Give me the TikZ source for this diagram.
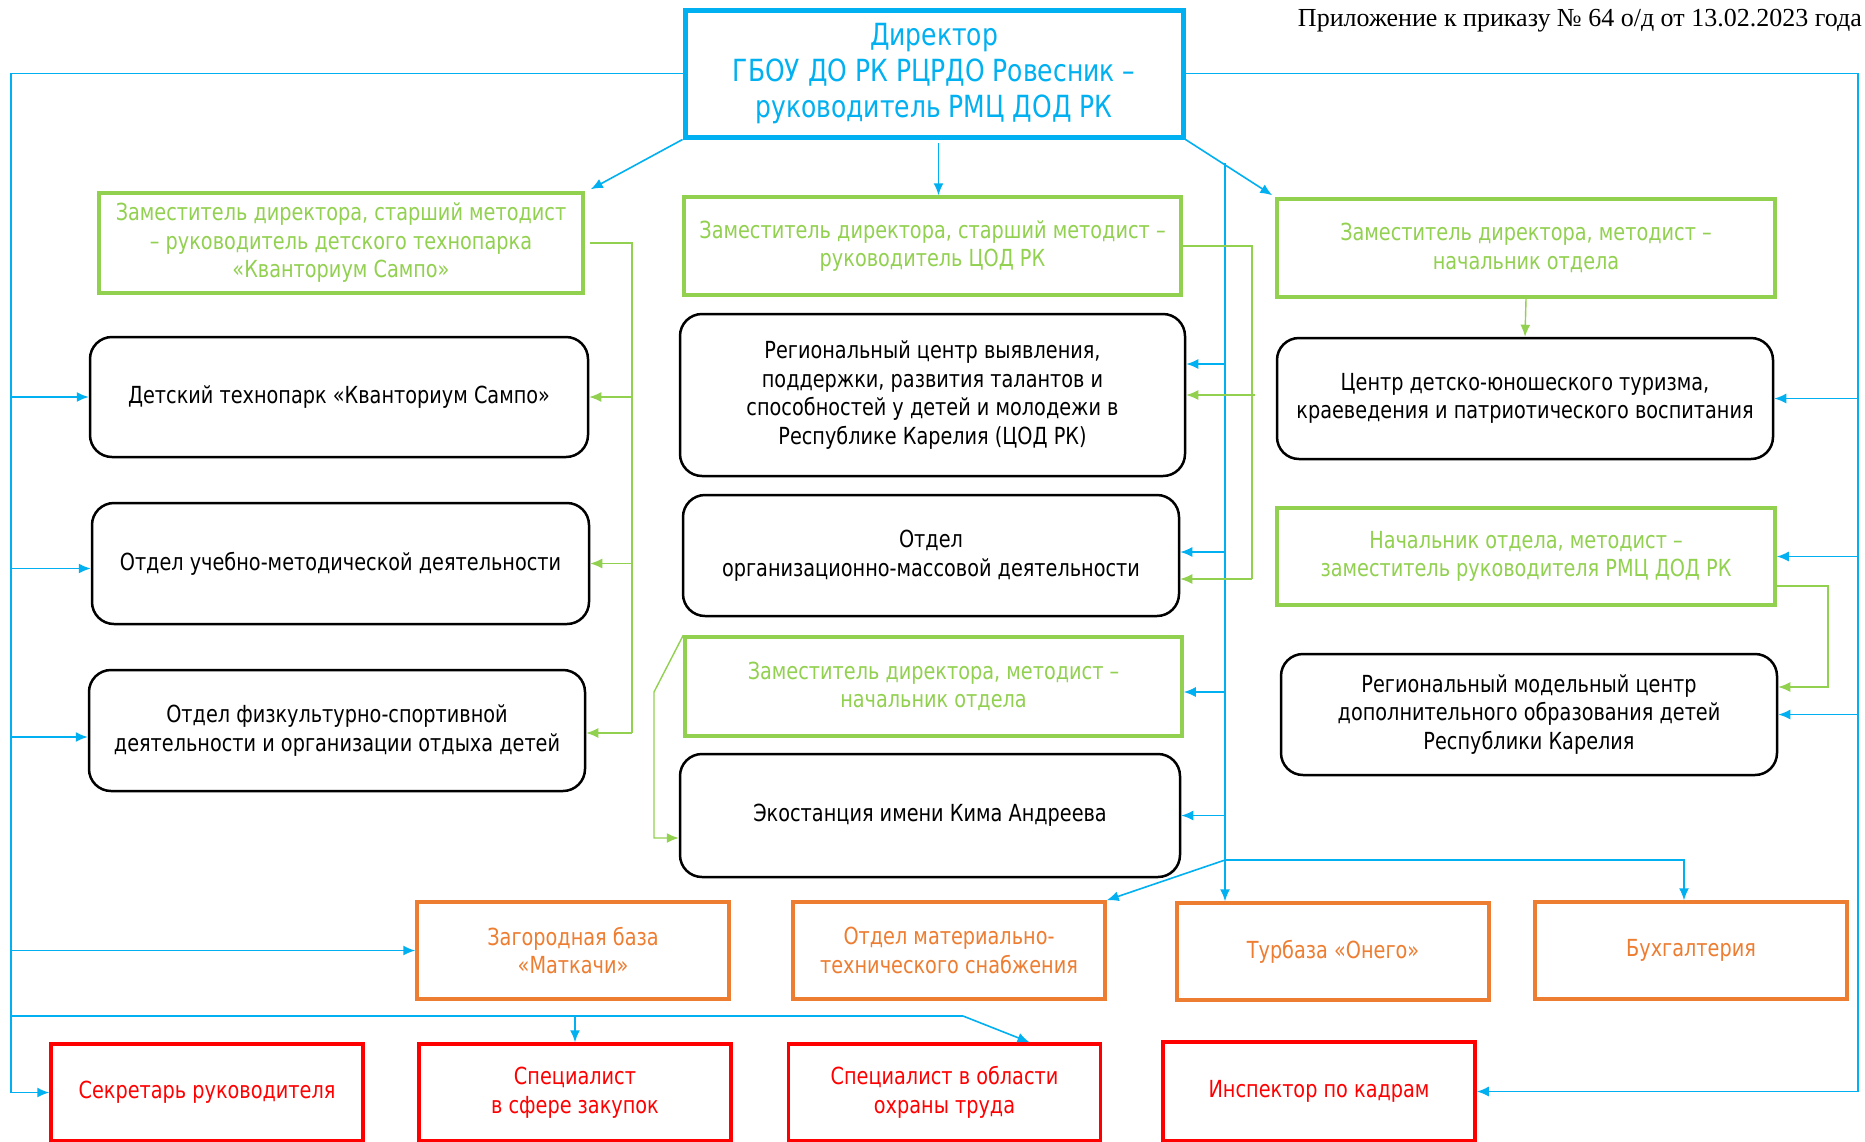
\documentclass[tikz,border=0pt]{standalone}
\usepackage{fontspec}
\setmainfont{DejaVu Sans}[FakeStretch=0.82]
\newfontfamily\annfont{Liberation Serif}
\usetikzlibrary{arrows.meta,calc}
\definecolor{cblue}{HTML}{00B0F0}
\definecolor{cgreen}{HTML}{92D050}
\definecolor{corange}{HTML}{ED7D31}
\definecolor{cred}{HTML}{FF0000}
\begin{document}
\begin{tikzpicture}[x=1pt,y=-1pt,
  txt/.style={align=center,inner sep=0pt,font=\fontsize{23.5}{28.5}\selectfont},
  dirbox/.style={txt,draw=cblue,line width=5pt,text=cblue,font=\fontsize{30.5}{36}\selectfont},
  gbox/.style={txt,draw=cgreen,line width=3.5pt,text=cgreen},
  kbox/.style={txt,draw=black,line width=2.5pt,rounded corners=22pt,text=black},
  obox/.style={txt,draw=corange,line width=3.5pt,text=corange},
  rbox/.style={txt,draw=cred,line width=3.5pt,text=cred},
  bline/.style={draw=cblue,line width=1.6pt},
  barrow/.style={bline,-{Latex[length=12pt,width=10pt]}},
  gline/.style={draw=cgreen,line width=1.4pt},
  garrow/.style={gline,-{Latex[length=12pt,width=10pt]}},
  sz/.style 2 args={minimum width=#1,minimum height=#2}
]
\useasboundingbox (0,0) rectangle (1865,1141);
\fill[white] (0,0) rectangle (1865,1141);

% annotation
\node[anchor=east,inner sep=0pt,font=\annfont\fontsize{26}{30}\selectfont] (ann) at (1862,21) {Приложение к приказу № 64 о/д от 13.02.2023 года};

% director
\node[dirbox,sz={498}{127}] (dir) at (934,73.5) {Директор\\ГБОУ ДО РК РЦРДО Ровесник –\\руководитель РМЦ ДОД РК};

% green heads
\node[gbox,sz={484}{100}] (L1) at (341,243) {Заместитель директора, старший методист\\– руководитель детского технопарка\\«Кванториум Сампо»};
\node[gbox,sz={497}{98}] (M1) at (932.5,246) {Заместитель директора, старший методист –\\руководитель ЦОД РК};
\node[gbox,sz={498}{98}] (R1) at (1526,248) {Заместитель директора, методист –\\начальник отдела};

% left column
\node[kbox,sz={498}{120}] (L2) at (339,397) {Детский технопарк «Кванториум Сампо»};
\node[kbox,sz={497}{121}] (L3) at (340.5,563.5) {Отдел учебно-методической деятельности};
\node[kbox,sz={496}{121}] (L4) at (337,730.5) {Отдел физкультурно-спортивной\\деятельности и организации отдыха детей};

% middle column
\node[kbox,sz={505}{162}] (M2) at (932.5,395) {Региональный центр выявления,\\поддержки, развития талантов и\\способностей у детей и молодежи в\\Республике Карелия (ЦОД РК)};
\node[kbox,sz={496}{121}] (M3) at (931,555.5) {Отдел\\организационно-массовой деятельности};
\node[gbox,sz={497}{99}] (M4) at (933.5,686.5) {Заместитель директора, методист –\\начальник отдела};
\node[kbox,sz={500}{123}] (M5) at (930,815.5) {Экостанция имени Кима Андреева};

% right column
\node[kbox,sz={496}{121}] (R2) at (1525,398.5) {Центр детско-юношеского туризма,\\краеведения и патриотического воспитания};
\node[gbox,sz={498}{97}] (R3) at (1526,556.5) {Начальник отдела, методист –\\заместитель руководителя РМЦ ДОД РК};
\node[kbox,sz={496}{121}] (R4) at (1529,714.5) {Региональный модельный центр\\дополнительного образования детей\\Республики Карелия};

% orange row
\node[obox,sz={312}{97}] (O1) at (573,950.5) {Загородная база\\«Маткачи»};
\node[obox,sz={312}{97}] (O2) at (949,950.5) {Отдел материально-\\технического снабжения};
\node[obox,sz={312}{97}] (O3) at (1333,951.5) {Турбаза «Онего»};
\node[obox,sz={312}{97}] (O4) at (1691,950.5) {Бухгалтерия};

% red row
\node[rbox,sz={312}{97}] (P1) at (207,1092.5) {Секретарь руководителя};
\node[rbox,sz={312}{97}] (P2) at (575,1092.5) {Специалист\\в сфере закупок};
\node[rbox,sz={312}{97}] (P3) at (944.5,1092.5) {Специалист в области\\охраны труда};
\node[rbox,sz={312}{99}] (P4) at (1319,1091.5) {Инспектор по кадрам};

% ---- blue connectors
\coordinate (LX) at (11,0);
\coordinate (RX) at (1858,0);
\draw[barrow] (dir.west) -| (LX |- P1.west) -- (P1.west);
\coordinate (l3b) at ([yshift=-5pt]L3.west);
\coordinate (l4b) at ([yshift=-6.5pt]L4.west);
\draw[barrow] (LX |- L2.west) -- (L2.west);
\draw[barrow] (LX |- l3b) -- (l3b);
\draw[barrow] (LX |- l4b) -- (l4b);
\draw[barrow] (LX |- O1.west) -- (O1.west);

\coordinate (HB1) at (11,1016);
\coordinate (HB2) at (963,1016);
\coordinate (p3t) at ([xshift=85pt]P3.north);
\draw[bline] (HB1) -- (HB2);
\draw[barrow] (HB2) -- (p3t);
\draw[barrow] (P2.north |- HB1) -- (P2.north);

\draw[barrow] (dir.east) -| (RX |- P4.east) -- (P4.east);
\draw[barrow] (RX |- R2.east) -- (R2.east);
\draw[barrow] (RX |- R3.east) -- (R3.east);
\draw[barrow] (RX |- R4.east) -- (R4.east);

\coordinate (m1t) at ([xshift=6pt]M1.north);
\draw[barrow] (m1t |- 0,143) -- (m1t);
\draw[barrow] (dir.south west) -- ([xshift=6pt,yshift=2pt]L1.north east);
\draw[barrow] (dir.south east) -- ([xshift=-3pt,yshift=2pt]R1.north west);

\coordinate (VT) at (1225,163);
\coordinate (VB) at (1225,860);
\draw[bline] (VT) -- (VB);
\coordinate (m2b) at ([yshift=31pt]M2.east);
\coordinate (m3b) at ([yshift=3.5pt]M3.east);
\coordinate (m4b) at ([yshift=-5.5pt]M4.east);
\draw[barrow] (VT |- m2b) -- (m2b);
\draw[barrow] (VT |- m3b) -- (m3b);
\draw[barrow] (VT |- m4b) -- (m4b);
\draw[barrow] (VT |- M5.east) -- (M5.east);
\draw[barrow] (VB) -- (O2.north east);
\draw[barrow] (VB) -- (VB |- O3.north);
\coordinate (o4t) at ([xshift=-7pt]O4.north);
\draw[barrow] (VB) -| (o4t);

% ---- green connectors
\coordinate (GL) at (632,0);
\coordinate (l4g) at ([yshift=-2.5pt]L4.east);
\draw[gline] ([xshift=5pt]L1.east) -| (GL |- l4g);
\draw[garrow] (GL |- L2.east) -- (L2.east);
\draw[garrow] (GL |- L3.east) -- (L3.east);
\draw[garrow] (GL |- l4g) -- (l4g);

\coordinate (GM) at (1252,0);
\coordinate (m3g) at ([yshift=-23.5pt]M3.east);
\draw[gline] (M1.east) -| (GM |- m3g);
\draw[garrow] ([xshift=3pt]GM |- M2.east) -- (M2.east);
\draw[garrow] (GM |- m3g) -- (m3g);

\draw[garrow] (R1.south) -- (R2.north);

\coordinate (GR) at (1828,0);
\coordinate (r3g) at ([yshift=-29.5pt]R3.east);
\coordinate (r4g) at ([yshift=27.5pt]R4.east);
\draw[garrow] (r3g) -| (GR |- r4g) -- (r4g);

\coordinate (ek) at (654,692);
\coordinate (m5g) at ([yshift=-22.5pt]M5.west);
\draw[garrow] (M4.north west) -- (ek) |- (m5g);
\end{tikzpicture}
\end{document}
